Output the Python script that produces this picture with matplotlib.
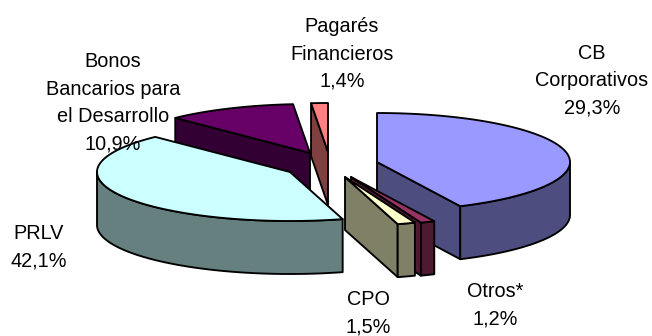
import numpy as np
import matplotlib
matplotlib.use("Agg")
import matplotlib.pyplot as plt
from matplotlib.patches import Polygon

# Data: clockwise from 12 o'clock
categories = ["CB\nCorporativos", "Otros*", "CPO", "PRLV",
              "Bonos\nBancarios para\nel Desarrollo", "Pagarés\nFinancieros"]
slice_shares = [42.9, 1.2, 1.5, 42.1, 10.9, 1.4]   # size of each drawn slice
printed_values = ["29,3%", "1,2%", "1,5%", "42,1%", "10,9%", "1,4%"]  # as printed on the chart

# Style
top_colors = ["#9999FF", "#993366", "#FFFFCC", "#CCFFFF", "#660066", "#FF8080"]
side_colors = ["#4D4D80", "#4D1933", "#808066", "#668080", "#330033", "#804040"]
apexes = [(377, 162), (351, 177), (345, 177), (290, 172), (310, 153), (328, 152)]
draw_order = [4, 5, 3, 0, 1, 2]
label_pos = [(592, 80.5), (495, 305.5), (368, 313.5), (39, 247), (113, 103), (342, 54)]
RX, RY, DEPTH = 193, 49, 53
LW = 1.35

plt.rcParams["font.family"] = ["Liberation Sans", "DejaVu Sans"]
fig = plt.figure(figsize=(6.52, 3.36), dpi=100, facecolor="white")
ax = fig.add_axes([0, 0, 1, 1])
ax.set_xlim(0, 652)
ax.set_ylim(336, 0)
ax.axis("off")

edges = np.cumsum([0] + slice_shares) / sum(slice_shares) * 2 * np.pi


def rim(c, a):
    return np.column_stack([c[0] + RX * np.sin(a), c[1] - RY * np.cos(a)])


def poly(pts, color, z):
    ax.add_patch(Polygon(pts, closed=True, facecolor=color, edgecolor="black",
                         linewidth=LW, joinstyle="round", zorder=z))


z = 1
for i in draw_order:
    c = np.array(apexes[i], float)
    a0, a1 = edges[i], edges[i + 1]
    down = np.array([0, DEPTH])
    # cut faces that look towards the viewer
    for ang, visible in ((a0, np.sin(a0) < -1e-6), (a1, np.sin(a1) > 1e-6)):
        if visible:
            p = rim(c, np.array([ang]))[0]
            poly([c, p, p + down, c + down], side_colors[i], z)
            z += 1
    # outer wall, front half only
    lo, hi = max(a0, np.pi / 2), min(a1, 3 * np.pi / 2)
    if hi > lo:
        arc = rim(c, np.linspace(lo, hi, 120))
        poly(np.vstack([arc, arc[::-1] + down]), side_colors[i], z)
        z += 1
    # top face
    arc = rim(c, np.linspace(a0, a1, 160))
    poly(np.vstack([c, arc]), top_colors[i], z)
    z += 1

for name, val, (x, y) in zip(categories, printed_values, label_pos):
    ax.text(x, y, f"{name}\n{val}", ha="center", va="center", fontsize=14.3,
            linespacing=1.56, color="black", zorder=z)

fig.savefig("out.png", dpi=100, facecolor="white")
